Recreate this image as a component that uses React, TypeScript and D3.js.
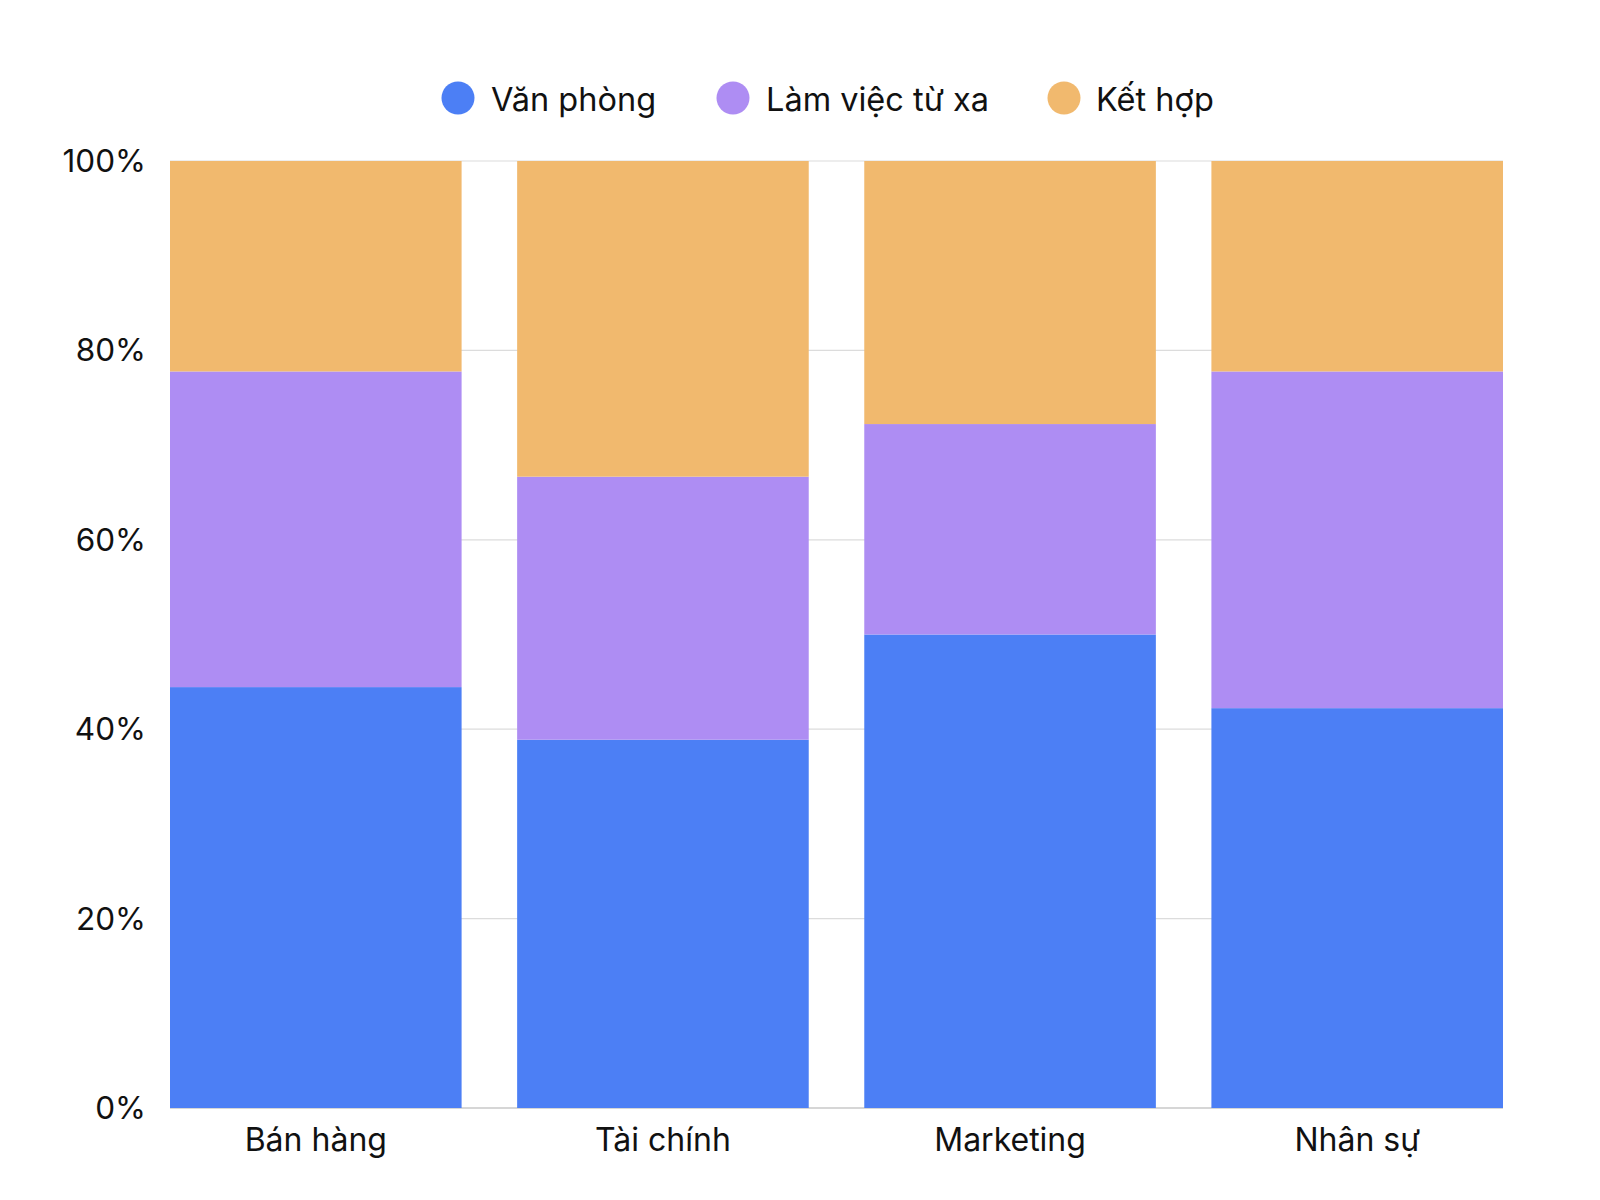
import React from 'react'
import * as d3 from 'd3'

const departments = ['Bán hàng', 'Tài chính', 'Marketing', 'Nhân sự']
const seriesNames = ['Văn phòng', 'Làm việc từ xa', 'Kết hợp']
const seriesColors = ['#4c7ff5', '#ae8df3', '#f1b96e']

// share of staff per work mode, per department
const office = [40, 35, 45, 38]
const remote = [30, 25, 20, 32]
const hybrid = [20, 30, 25, 20]

const yTicks = [0, 0.2, 0.4, 0.6, 0.8, 1]

const FONT = 'Inter, "Noto Sans", sans-serif'

interface Row {
  dept: string
  [key: string]: string | number
}

export default function App() {
  const width = 1600
  const height = 1200
  const margin = { top: 161, right: 97, bottom: 92, left: 170 }
  const innerW = width - margin.left - margin.right
  const innerH = height - margin.top - margin.bottom

  const rows: Row[] = departments.map((d, i) => ({
    dept: d,
    [seriesNames[0]]: office[i],
    [seriesNames[1]]: remote[i],
    [seriesNames[2]]: hybrid[i],
  }))

  const stacked = d3
    .stack<Row>()
    .keys(seriesNames)
    .value((d, key) => d[key] as number)
    .offset(d3.stackOffsetExpand)(rows)

  const xScale = d3.scaleBand().domain(departments).range([0, innerW]).paddingInner(0.16).paddingOuter(0)
  const yScale = d3.scaleLinear().domain([0, 1]).range([innerH, 0])
  const color = d3.scaleOrdinal<string>().domain(seriesNames).range(seriesColors)

  const legendItems = [
    { name: seriesNames[0], cx: 458, tx: 491 },
    { name: seriesNames[1], cx: 733, tx: 766 },
    { name: seriesNames[2], cx: 1064, tx: 1096 },
  ]

  return (
    <svg width={width} height={height} style={{ display: 'block', margin: -8 }} fontFamily={FONT}>
      <rect width={width} height={height} fill="#fff" />
      <g>
        {legendItems.map((item) => (
          <g key={item.name}>
            <circle cx={item.cx} cy={98} r={16.5} fill={color(item.name)} />
            <text x={item.tx} y={102} dominantBaseline="middle" fontSize={32.5} fill="#111">
              {item.name}
            </text>
          </g>
        ))}
      </g>
      <g transform={`translate(${margin.left},${margin.top})`}>
        {yTicks.map((t) => (
          <g key={t}>
            <line
              x1={0}
              x2={innerW}
              y1={yScale(t)}
              y2={yScale(t)}
              stroke={t === 0 ? '#d6d6d6' : '#dcdcdc'}
              strokeWidth={t === 0 ? 2 : 1.2}
            />
            <text
              x={-24}
              y={yScale(t)}
              dy="0.35em"
              textAnchor="end"
              fontSize={31.5}
              fill="#111"
            >
              {d3.format('.0%')(t)}
            </text>
          </g>
        ))}
        {stacked.map((layer) => (
          <g key={layer.key} fill={color(layer.key)}>
            {layer.map((seg) => (
              <rect
                key={seg.data.dept}
                x={xScale(seg.data.dept)}
                y={yScale(seg[1])}
                width={xScale.bandwidth()}
                height={yScale(seg[0]) - yScale(seg[1])}
              />
            ))}
          </g>
        ))}
        {departments.map((d) => (
          <text
            key={d}
            x={(xScale(d) ?? 0) + xScale.bandwidth() / 2}
            y={innerH + 32}
            dy="0.35em"
            textAnchor="middle"
            fontSize={32}
            fill="#111"
          >
            {d}
          </text>
        ))}
      </g>
    </svg>
  )
}
